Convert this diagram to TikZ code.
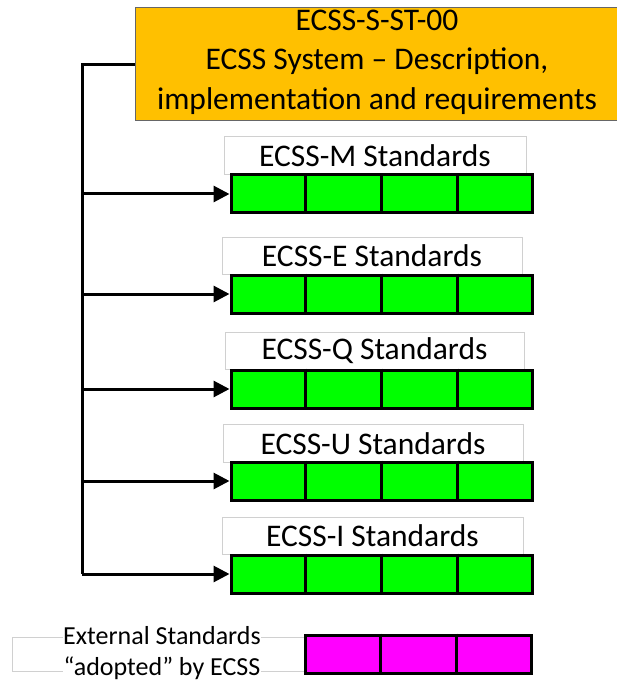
\documentclass[tikz,border=0pt]{standalone}
\usepackage{fontspec}
\setmainfont{Carlito}
\usetikzlibrary{arrows.meta,calc}
\definecolor{ecssorange}{HTML}{FFC000}
\definecolor{ecssgreen}{HTML}{00FF00}
\definecolor{ecssmag}{HTML}{FF00FF}
\definecolor{lblgray}{HTML}{D0D0D0}
\tikzset{
  topbox/.style={draw=black!60, line width=1pt, fill=ecssorange, inner sep=0pt},
  lblbox/.style={draw=lblgray, line width=1pt, fill=white, inner sep=0pt, minimum height=37.5pt,
    font=\fontsize{31.5}{39.5}\selectfont},
  barbox/.style={draw=black, line width=3pt, inner sep=0pt, minimum height=38pt},
  greenbar/.style={barbox, fill=ecssgreen, minimum width=301pt},
  magbar/.style={barbox, fill=ecssmag, minimum width=226pt},
  divider/.style={line width=2.5pt, draw=black},
  conn/.style={line width=3pt, draw=black},
  arr/.style={conn, -{Triangle[length=16pt,width=16pt]}},
}
\begin{document}
\begin{tikzpicture}[x=1pt,y=-1pt]
\useasboundingbox (0,0) rectangle (617,684);
% top box
\node[topbox, minimum width=486pt, minimum height=113pt] (top) at (378,64.5) {};
\node[align=center, font=\fontsize{31.5}{39.5}\selectfont] (toptext) at (377,62)
  {ECSS-S-ST-00\\ECSS System -- Description,\\implementation and requirements};
% rows
\foreach \nm/\lx/\lw/\ly/\by/\txt in {
  M/375/302/155.5/194/ECSS-M Standards,
  E/372/300/256/294/ECSS-E Standards,
  Q/374.5/299/351/389/ECSS-Q Standards,
  U/373/300/443.5/481/ECSS-U Standards,
  I/372.5/301/536/574/ECSS-I Standards}{
  \node[lblbox, minimum width=\lw pt] (lbl\nm) at (\lx,\ly) {\txt};
  \node[greenbar] (bar\nm) at (381.5,\by) {};
  \draw[divider] ($(bar\nm.north west)!0.25!(bar\nm.north east)$) -- ($(bar\nm.south west)!0.25!(bar\nm.south east)$);
  \draw[divider] ($(bar\nm.north west)!0.5!(bar\nm.north east)$) -- ($(bar\nm.south west)!0.5!(bar\nm.south east)$);
  \draw[divider] ($(bar\nm.north west)!0.75!(bar\nm.north east)$) -- ($(bar\nm.south west)!0.75!(bar\nm.south east)$);
}
% spine
\coordinate (spineTop) at (82,64.5);
\draw[conn] (top.west) -- (spineTop) -- (spineTop |- barI.west);
\foreach \nm in {M,E,Q,U,I}{
  \draw[arr] (spineTop |- bar\nm.west) -- (bar\nm.west);
}
% external
\node[draw=lblgray, line width=1pt, minimum width=300pt, minimum height=34pt, inner sep=0pt] (lblX) at (162,654) {};
\node[magbar] (barX) at (418.5,654) {};
\draw[divider] ($(barX.north west)!0.3333!(barX.north east)$) -- ($(barX.south west)!0.3333!(barX.south east)$);
\draw[divider] ($(barX.north west)!0.6667!(barX.north east)$) -- ($(barX.south west)!0.6667!(barX.south east)$);
\node[fill=white, inner sep=0pt, align=center, font=\fontsize{26}{30.5}\selectfont] (lblXtext) at (162,653)
  {External Standards\\“adopted” by ECSS};
\end{tikzpicture}
\end{document}
